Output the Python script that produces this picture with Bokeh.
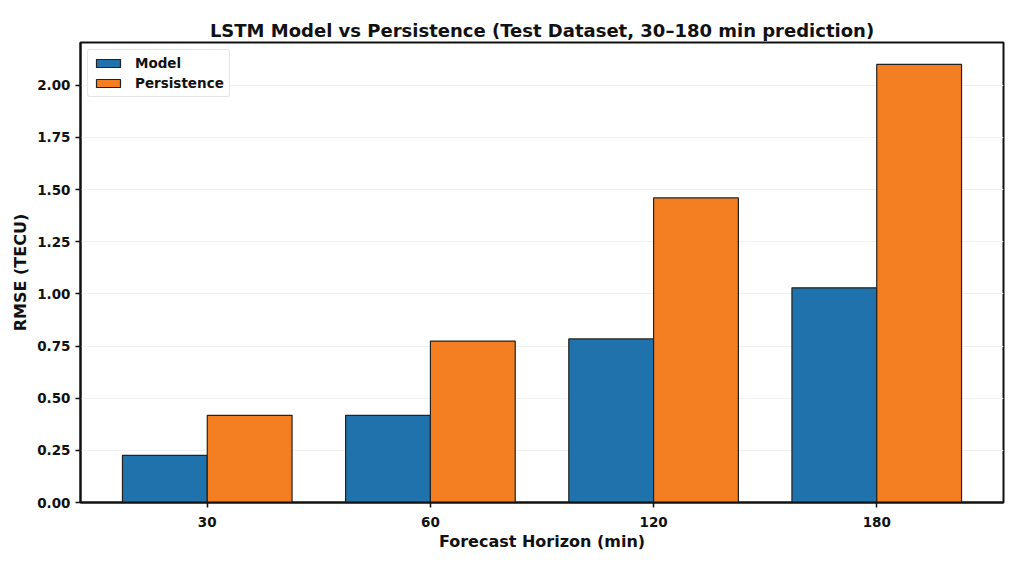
from bokeh.plotting import figure
from bokeh.models import ColumnDataSource, Range1d, FixedTicker, Legend, LegendItem, NumeralTickFormatter
from bokeh.transform import dodge
from bokeh.embed import file_html
from bokeh.resources import INLINE

horizons = ["30", "60", "120", "180"]
model_rmse = [0.226, 0.418, 0.784, 1.029]
persistence_rmse = [0.418, 0.774, 1.46, 2.10]

idx = list(range(len(horizons)))
src = ColumnDataSource(dict(x=idx, model=model_rmse, pers=persistence_rmse))

bw = 0.38
p = figure(width=1016, height=554, output_backend="svg", toolbar_location=None,
           x_range=Range1d(-0.568, 3.568), y_range=Range1d(0, 2.205),
           min_border_left=80, min_border_right=13, min_border_top=42, min_border_bottom=52)

r1 = p.vbar(x=dodge("x", -bw / 2), top="model", width=bw, source=src,
            fill_color="#1f72ab", line_color="#222222", line_width=1.2)
r2 = p.vbar(x=dodge("x", bw / 2), top="pers", width=bw, source=src,
            fill_color="#f47e22", line_color="#222222", line_width=1.2)

p.title.text = "LSTM Model vs Persistence (Test Dataset, 30\u2013180 min prediction)"
p.title.text_font = "DejaVu Sans"
p.title.text_font_style = "bold"
p.title.text_font_size = "18px"
p.title.align = "center"
p.title.text_color = "#111111"
p.title.standoff = 4

for ax in (p.xaxis[0], p.yaxis[0]):
    ax.axis_label_text_font = "DejaVu Sans"
    ax.axis_label_text_font_style = "bold"
    ax.axis_label_text_font_size = "16px"
    ax.axis_label_text_color = "#111111"
    ax.major_label_text_font = "DejaVu Sans"
    ax.major_label_text_font_style = "bold"
    ax.major_label_text_font_size = "13.5px"
    ax.major_label_text_color = "#111111"
    ax.minor_tick_line_color = None
    ax.major_tick_out = 5
    ax.major_tick_in = 0
    ax.major_tick_line_width = 1.5
    ax.major_tick_line_color = "#111111"
    ax.axis_line_width = 2
    ax.axis_line_color = "#111111"

p.xaxis.axis_label = "Forecast Horizon (min)"
p.xaxis.ticker = FixedTicker(ticks=idx)
p.xaxis.major_label_overrides = {i: h for i, h in zip(idx, horizons)}
p.xaxis.major_label_standoff = 9
p.xaxis.axis_label_standoff = 2
p.yaxis.axis_label = "RMSE (TECU)"
p.yaxis.ticker = FixedTicker(ticks=[0, 0.25, 0.5, 0.75, 1.0, 1.25, 1.5, 1.75, 2.0])
p.yaxis.formatter = NumeralTickFormatter(format="0.00")
p.yaxis.axis_label_standoff = 4

p.xgrid.grid_line_color = None
p.ygrid.grid_line_color = "#f0f0f0"
p.ygrid.grid_line_width = 1
p.ygrid.ticker = p.yaxis.ticker

p.outline_line_color = "#111111"
p.outline_line_width = 2
p.outline_line_alpha = 1

legend = Legend(items=[LegendItem(label="Model", renderers=[r1]),
                       LegendItem(label="Persistence", renderers=[r2])],
                location="top_left")
legend.label_text_font = "DejaVu Sans"
legend.label_text_font_style = "bold"
legend.label_text_font_size = "13.5px"
legend.label_text_color = "#111111"
legend.glyph_width = 30
legend.glyph_height = 10
legend.label_height = 16
legend.label_standoff = 12
legend.spacing = 4
legend.padding = 5
legend.margin = 7
legend.border_line_color = "#cccccc"
legend.border_line_width = 1
legend.border_radius = 3
p.add_layout(legend)

open("out.html", "w").write(file_html(p, INLINE))
